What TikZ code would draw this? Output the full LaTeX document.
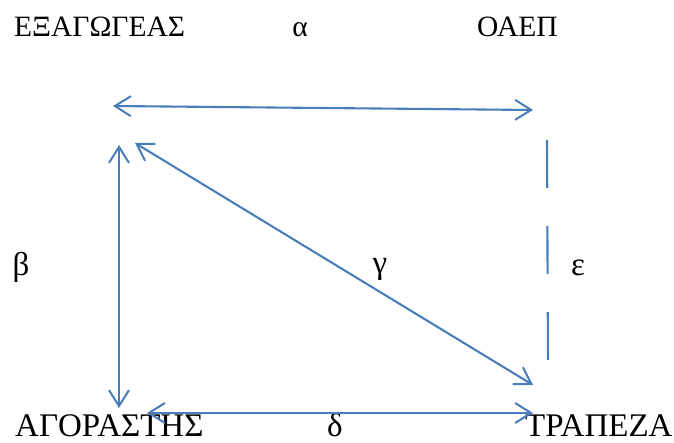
\documentclass[tikz,border=0pt]{standalone}
\usepackage{fontspec}
\setmainfont{Liberation Serif}
\usepackage{tikz}
\usetikzlibrary{arrows.meta}

\definecolor{linkblue}{HTML}{4A7EBB}

\begin{document}
\begin{tikzpicture}[
        x=1pt, y=-1pt,
        label/.style={inner sep=0pt, font=\fontsize{33}{38}\selectfont},
        headlabel/.style={label, font=\fontsize{29.5}{34}\selectfont},
        link/.style={draw=linkblue, line width=2.1pt, {Straight Barb[length=16pt, width=20pt, line width=2pt]}-{Straight Barb[length=16pt, width=20pt, line width=2pt]}},
        gapline/.style={draw=linkblue, line width=2.1pt, dash pattern=on 48pt off 38pt}
    ]
        \useasboundingbox (0,0) rectangle (674,443);

        % Parties
        \node[headlabel, anchor=base west] (exporter) at (14,37) {ΕΞΑΓΩΓΕΑΣ};
        \node[headlabel, anchor=base west] (oaep) at (477,37) {ΟΑΕΠ};
        \node[label, anchor=base west] (buyer) at (15,436) {ΑΓΟΡΑΣΤΗΣ};
        \node[label, anchor=base west] (bank) at (525,436) {ΤΡΑΠΕΖΑ};

        % Relation letters
        \node[headlabel, anchor=base] (alpha) at (300,37) {α};
        \node[label, anchor=base] (beta) at (21,276) {β};
        \node[label, anchor=base] (gamma) at (380,274) {γ};
        \node[label, anchor=base] (delta) at (335,436) {δ};
        \node[label, anchor=base] (epsilon) at (578,276) {ε};

        % Arrow ends
        \coordinate (topL) at (113,106);
        \coordinate (topR) at (533,110);
        \coordinate (leftT) at (119,145);
        \coordinate (leftB) at (119,408);
        \coordinate (diagT) at (135,143);
        \coordinate (diagB) at (533,385);
        \coordinate (botL) at (147,413);
        \coordinate (botR) at (533,413);
        \coordinate (rightT) at (547,140);
        \coordinate (rightB) at (548,365);

        % Arrows
        \draw[link] (topL) -- (topR);
        \draw[link] (leftT) -- (leftB);
        \draw[link] (diagT) -- (diagB);
        \draw[link] (botL) -- (botR);
        \draw[gapline] (rightT) -- (rightB);
    \end{tikzpicture}
\end{document}
